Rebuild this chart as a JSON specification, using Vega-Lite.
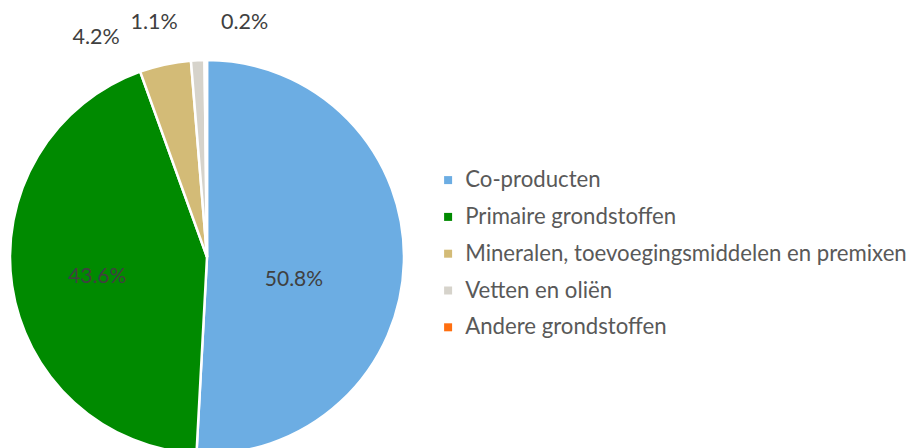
{
  "$schema": "https://vega.github.io/schema/vega-lite/v6.json",
  "width": 414,
  "height": 514,
  "autosize": {"type": "none"},
  "padding": {"left": 0, "top": 0, "right": 504, "bottom": 0},
  "background": "white",
  "config": {"view": {"stroke": null}, "font": "Lato"},
  "data": {
    "values": [
      {"cat": "Co-producten", "pct": 50.8, "label": "50.8%", "ord": 1},
      {"cat": "Primaire grondstoffen", "pct": 43.6, "label": "43.6%", "ord": 2},
      {"cat": "Mineralen, toevoegingsmiddelen en premixen", "pct": 4.2, "label": "4.2%", "ord": 3},
      {"cat": "Vetten en oliën", "pct": 1.1, "label": "1.1%", "ord": 4},
      {"cat": "Andere grondstoffen", "pct": 0.2, "label": "0.2%", "ord": 5}
    ]
  },
  "encoding": {
    "theta": {"field": "pct", "type": "quantitative", "stack": true},
    "order": {"field": "ord", "type": "quantitative"}
  },
  "layer": [
    {
      "mark": {"type": "arc", "outerRadius": 197, "stroke": "white", "strokeWidth": 2.5},
      "encoding": {
        "color": {
          "field": "cat",
          "type": "nominal",
          "scale": {
            "domain": ["Co-producten", "Primaire grondstoffen", "Mineralen, toevoegingsmiddelen en premixen", "Vetten en oliën", "Andere grondstoffen"],
            "range": ["#6CADE3", "#008A00", "#D3BB77", "#D6D3CB", "#FF6F10"]
          },
          "legend": {
            "orient": "none",
            "legendX": 437,
            "legendY": 169,
            "title": null,
            "symbolType": "square",
            "symbolSize": 64,
            "symbolStrokeWidth": 0,
            "labelFontSize": 22.2,
            "labelColor": "#595959",
            "labelFont": "Lato",
            "labelOffset": 6,
            "rowPadding": 13.8,
            "labelLimit": 600
          }
        }
      }
    },
    {
      "mark": {"type": "text", "radius": 112, "fontSize": 21, "color": "#404040", "dx": 1, "dy": 4},
      "encoding": {
        "text": {"field": "label"},
        "opacity": {"condition": {"test": "datum.cat === 'Primaire grondstoffen'", "value": 1}, "value": 0}
      }
    },
    {
      "mark": {"type": "text", "radius": 112, "fontSize": 21, "color": "#404040", "dx": -25, "dy": 20},
      "encoding": {
        "text": {"field": "label"},
        "opacity": {"condition": {"test": "datum.cat === 'Co-producten'", "value": 1}, "value": 0}
      }
    },
    {
      "mark": {"type": "text", "radius": 230, "fontSize": 21.5, "color": "#404040", "dx": -62, "dy": 6},
      "encoding": {
        "text": {"field": "label"},
        "opacity": {"condition": {"test": "datum.cat === 'Mineralen, toevoegingsmiddelen en premixen'", "value": 1}, "value": 0}
      }
    },
    {
      "mark": {"type": "text", "radius": 230, "fontSize": 21.5, "color": "#404040", "dx": -42, "dy": -4},
      "encoding": {
        "text": {"field": "label"},
        "opacity": {"condition": {"test": "datum.cat === 'Vetten en oliën'", "value": 1}, "value": 0}
      }
    },
    {
      "mark": {"type": "text", "radius": 230, "fontSize": 21.5, "color": "#404040", "dx": 39, "dy": -4},
      "encoding": {
        "text": {"field": "label"},
        "opacity": {"condition": {"test": "datum.cat === 'Andere grondstoffen'", "value": 1}, "value": 0}
      }
    }
  ]
}
